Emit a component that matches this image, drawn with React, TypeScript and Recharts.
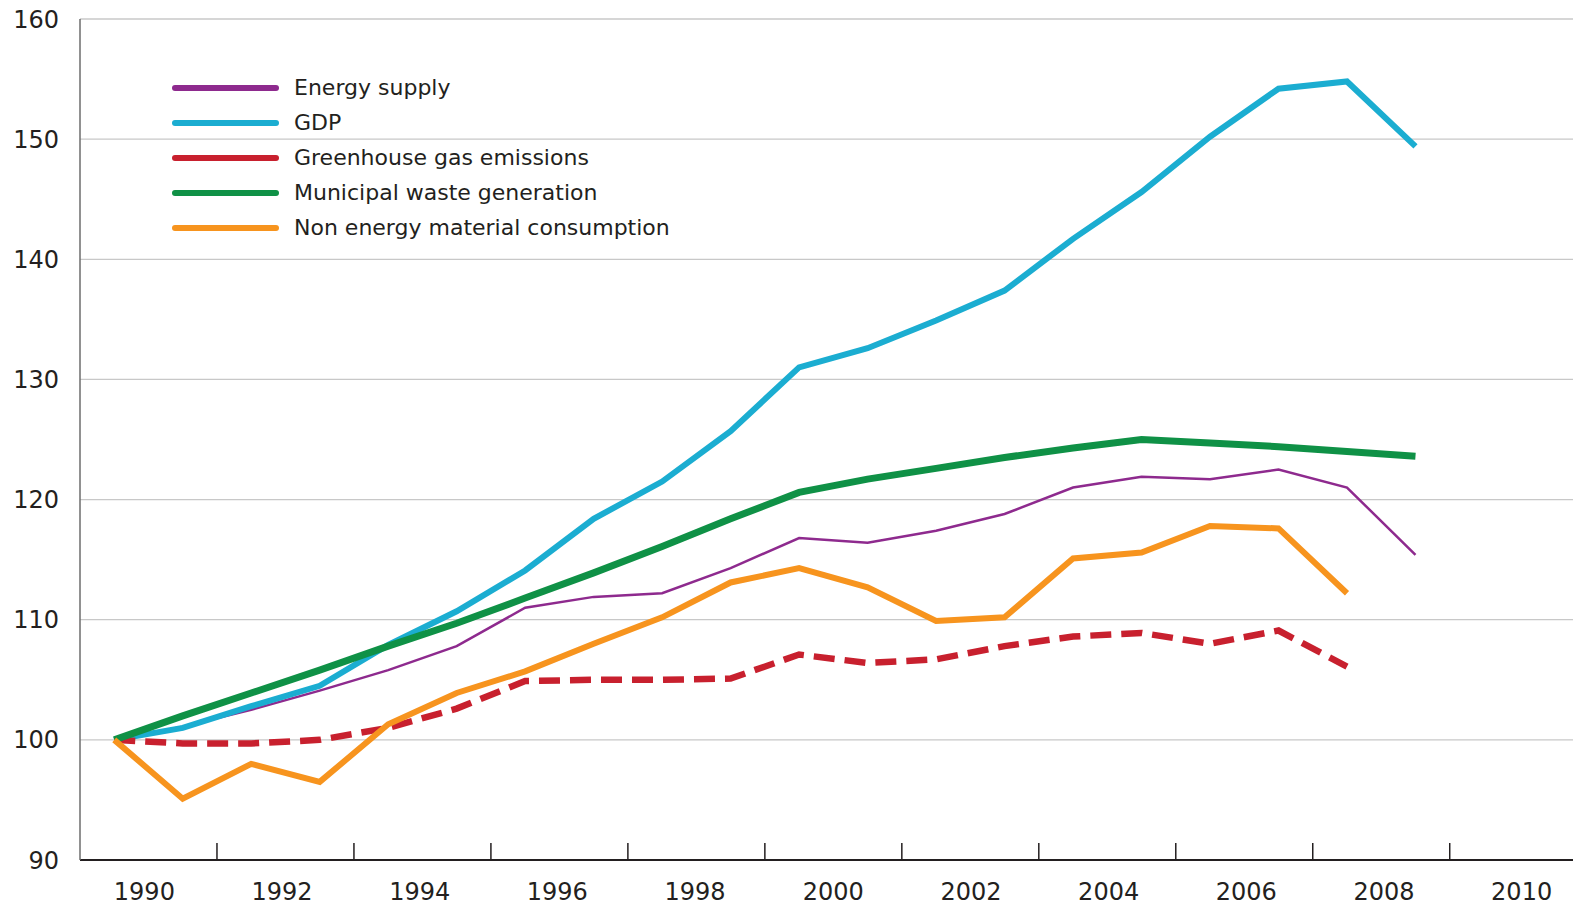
import React from 'react';
import { LineChart, Line, XAxis, YAxis, CartesianGrid, Legend } from 'recharts';

const YEARS = [1990, 1991, 1992, 1993, 1994, 1995, 1996, 1997, 1998, 1999, 2000, 2001, 2002, 2003, 2004, 2005, 2006, 2007, 2008, 2009];
const ENERGY = [100, 101.1, 102.5, 104.1, 105.8, 107.8, 111.0, 111.9, 112.2, 114.3, 116.8, 116.4, 117.4, 118.8, 121.0, 121.9, 121.7, 122.5, 121.0, 115.4];
const GDP = [100, 101.0, 102.8, 104.5, 107.9, 110.7, 114.1, 118.4, 121.5, 125.7, 131.0, 132.6, 134.9, 137.4, 141.7, 145.6, 150.2, 154.2, 154.8, 149.4];
const GHG = [100, 99.7, 99.7, 100.0, 101.0, 102.6, 104.9, 105.0, 105.0, 105.1, 107.1, 106.4, 106.7, 107.8, 108.6, 108.9, 108.0, 109.1, 106.1, null];
const WASTE = [100, 102.0, 103.9, 105.8, 107.8, 109.7, 111.8, 113.9, 116.1, 118.4, 120.6, 121.7, 122.6, 123.5, 124.3, 125.0, 124.7, 124.4, 124.0, 123.6];
const MATERIAL = [100, 95.1, 98.0, 96.5, 101.3, 103.9, 105.7, 108.0, 110.2, 113.1, 114.3, 112.7, 109.9, 110.2, 115.1, 115.6, 117.8, 117.6, 112.2, null];

const X_LABEL_POS = [1990.44, 1992.45, 1994.46, 1996.47, 1998.48, 2000.5, 2002.51, 2004.52, 2006.53, 2008.54, 2010.55];
const X_TICK_LABELS = ['1990', '1992', '1994', '1996', '1998', '2000', '2002', '2004', '2006', '2008', '2010'];
const X_BOUNDARIES = [1991.5, 1993.5, 1995.5, 1997.5, 1999.5, 2001.5, 2003.5, 2005.5, 2007.5, 2009.5];
const Y_TICKS = [90, 100, 110, 120, 130, 140, 150, 160];

const SERIES = [
  { key: 'energy', name: 'Energy supply', color: '#8E2A8E', width: 2.5, dash: undefined },
  { key: 'gdp', name: 'GDP', color: '#1BADD1', width: 6, dash: undefined },
  { key: 'ghg', name: 'Greenhouse gas emissions', color: '#C8202E', width: 6.5, dash: '21 10' },
  { key: 'waste', name: 'Municipal waste generation', color: '#0F9146', width: 7, dash: undefined },
  { key: 'material', name: 'Non energy material consumption', color: '#F7941E', width: 6, dash: undefined },
];

const data = YEARS.map((year, i) => ({
  year,
  energy: ENERGY[i],
  gdp: GDP[i],
  ghg: GHG[i],
  waste: WASTE[i],
  material: MATERIAL[i],
}));

const FONT = '"DejaVu Sans", sans-serif';
const DOMAIN: [number, number] = [1989.5, 2011.3];

const LegendContent = (props: any) => {
  const payload = props.payload || [];
  return (
    <div style={{ fontFamily: FONT, fontSize: 22, color: '#231F20' }}>
      {payload.map((p: any) => (
        <div key={p.value} style={{ display: 'flex', alignItems: 'center', height: 34.9 }}>
          <svg width={107} height={12} style={{ display: 'block' }}>
            <line x1={3} y1={6} x2={104} y2={6} stroke={p.color} strokeWidth={6} strokeLinecap="round" />
          </svg>
          <span style={{ marginLeft: 15, whiteSpace: 'nowrap', lineHeight: '26px' }}>{p.value}</span>
        </div>
      ))}
    </div>
  );
};

export default function App() {
  return (
    <div style={{ position: 'absolute', left: 0, top: 0, background: '#fff' }}>
      <LineChart width={1573} height={906} data={data} margin={{ top: 19, right: 0, bottom: 0, left: 0 }}>
        <CartesianGrid vertical={false} stroke="#c8c8c8" strokeWidth={1.3} xAxisId="t" />
        <XAxis
          xAxisId="t"
          type="number"
          dataKey="year"
          domain={DOMAIN}
          allowDataOverflow
          ticks={X_BOUNDARIES}
          interval={0}
          height={1}
          mirror
          tickSize={17}
          tickLine={{ stroke: '#231F20', strokeWidth: 1.5 }}
          tick={() => <g />}
          axisLine={false}
        />
        <XAxis
          xAxisId="l"
          type="number"
          dataKey="year"
          domain={DOMAIN}
          allowDataOverflow
          ticks={X_LABEL_POS}
          interval={0}
          height={46}
          tickLine={false}
          tickSize={0}
          tickMargin={23}
          tickFormatter={(v: number, i: number) => X_TICK_LABELS[i]}
          tick={{ fontFamily: FONT, fontSize: 24, fill: '#231F20' }}
          axisLine={{ stroke: '#231F20', strokeWidth: 2 }}
        />
        <YAxis
          domain={[90, 160]}
          ticks={Y_TICKS}
          interval={0}
          width={80}
          tickLine={false}
          tickSize={0}
          tickMargin={21}
          tick={{ fontFamily: FONT, fontSize: 24, fill: '#231F20' }}
          axisLine={{ stroke: '#6d6d6d', strokeWidth: 1.5 }}
        />
        <Legend
          layout="horizontal"
          verticalAlign="middle"
          align="center"
          content={<LegendContent />}
          wrapperStyle={{ left: 172, top: 70.5, width: 560 }}
        />
        {SERIES.map((s) => (
          <Line
            key={s.key}
            xAxisId="t"
            type="linear"
            dataKey={s.key}
            name={s.name}
            stroke={s.color}
            strokeWidth={s.width}
            strokeDasharray={s.dash}
            dot={false}
            activeDot={false}
            isAnimationActive={false}
          />
        ))}
      </LineChart>
    </div>
  );
}
